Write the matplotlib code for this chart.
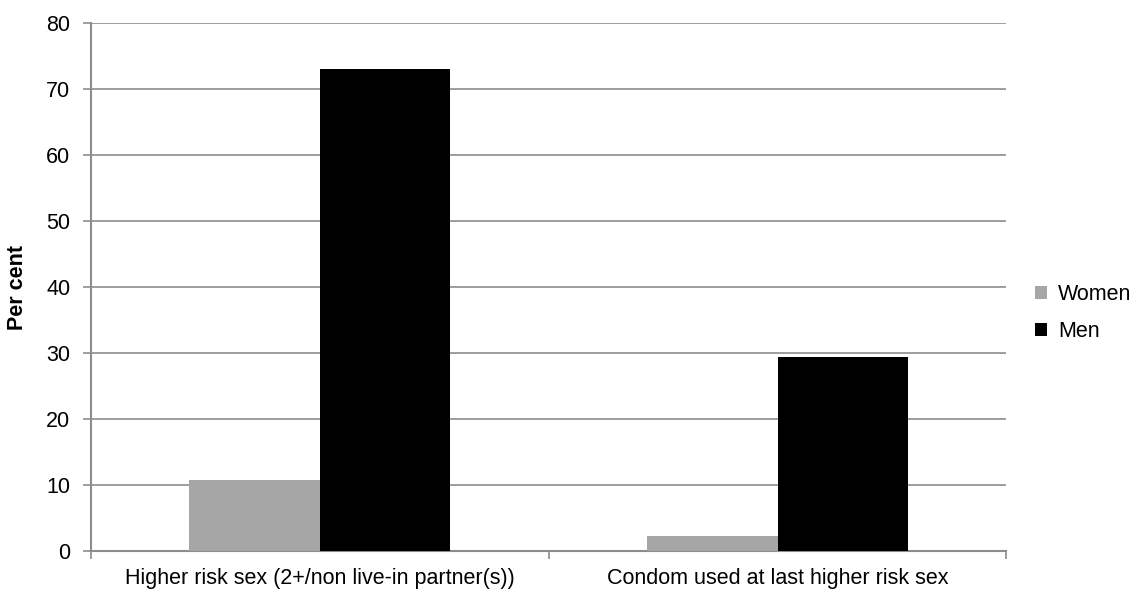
import matplotlib
matplotlib.use("Agg")
import matplotlib.pyplot as plt
import numpy as np

categories = ["Higher risk sex (2+/non live-in partner(s))",
              "Condom used at last higher risk sex"]
women = [10.8, 2.3]
men = [73.1, 29.4]
series_names = ["Women", "Men"]
yticks = [0, 10, 20, 30, 40, 50, 60, 70, 80]

plt.rcParams["font.family"] = ["Liberation Sans", "DejaVu Sans"]
FS = 15.5

fig = plt.figure(figsize=(11.42, 5.99), dpi=100)
ax = fig.add_axes([0.0797, 0.0801, 0.8015, 0.8815])

x = np.arange(len(categories))
w = 0.285
grid_col = "#8c8c8c"
ax.bar(x - w / 2, women, width=w, color="#a6a6a6", label=series_names[0], zorder=3)
ax.bar(x + w / 2, men, width=w, color="#000000", label=series_names[1], zorder=3)

ax.set_xlim(-0.5, len(categories) - 0.5)
ax.set_ylim(0, 80)
ax.set_yticks(yticks)
ax.tick_params(axis="y", labelsize=FS, length=6, color=grid_col, width=1.2, pad=9)
ax.yaxis.grid(True, color=grid_col, linewidth=1.2, zorder=0)

# category labels centred, tick marks at category boundaries
ax.set_xticks(x)
ax.set_xticklabels(categories, fontsize=FS)
ax.tick_params(axis="x", length=0, pad=12)
ax.set_xticks(np.arange(-0.5, len(categories), 1.0), minor=True)
ax.tick_params(axis="x", which="minor", length=6, color=grid_col, width=1.2)

for s in ["top", "right"]:
    ax.spines[s].set_visible(False)
for s in ["left", "bottom"]:
    ax.spines[s].set_color(grid_col)
    ax.spines[s].set_linewidth(1.5)

ax.set_ylabel("Per cent", fontsize=FS, fontweight="bold")
ax.yaxis.set_label_coords(-0.0685, 0.5)

leg = fig.legend(loc="center left", bbox_to_anchor=(1016 / 1142, 1 - 313 / 599),
                 frameon=False, fontsize=FS, handlelength=0.55, handleheight=0.55,
                 handletextpad=0.5, labelspacing=0.75)

fig.savefig("out.png", dpi=100)
